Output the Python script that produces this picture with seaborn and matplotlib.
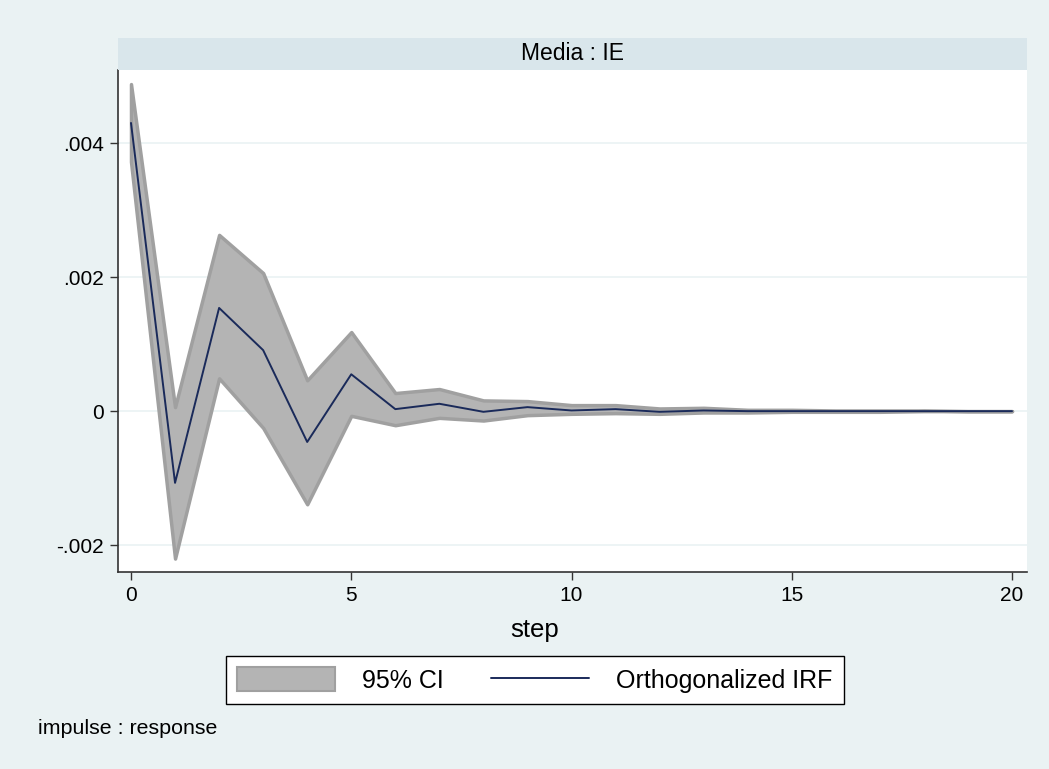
import numpy as np
import pandas as pd
import seaborn as sns
import matplotlib.pyplot as plt
from matplotlib.patches import Patch, Rectangle
from matplotlib.lines import Line2D

# values (orthogonalized IRF, Media : IE)
step = list(range(21))
irf = [0.00430, -0.00107, 0.00154, 0.00091, -0.00046, 0.00055, 0.00003, 0.00011,
       -0.00001, 0.00006, 0.00001, 0.00003, -0.00001, 0.00001, 0.0, 0.0,
       0.0, 0.0, 0.0, 0.0, 0.0]
ci_upper = [0.00488, 0.00006, 0.00263, 0.00206, 0.00046, 0.00118, 0.00027, 0.00033,
            0.00016, 0.00015, 0.00009, 0.00009, 0.00004, 0.00005, 0.00002, 0.00002,
            0.00001, 0.00001, 0.00001, 0.0, 0.0]
ci_lower = [0.00372, -0.00220, 0.00049, -0.00025, -0.00139, -0.00007, -0.00021, -0.00010,
            -0.00014, -0.00006, -0.00004, -0.00003, -0.00004, -0.00002, -0.00002, -0.00001,
            -0.00001, -0.00001, 0.0, 0.0, 0.0]
y_ticks = [-0.002, 0, 0.002, 0.004]
y_tick_labels = ["-.002", "0", ".002", ".004"]
x_ticks = [0, 5, 10, 15, 20]

df = pd.DataFrame({"step": step, "irf": irf, "lower": ci_lower, "upper": ci_upper})

bg = "#EAF2F3"
sns.set_style("white", {"text.color": "black", "axes.labelcolor": "black",
                        "xtick.color": "black", "ytick.color": "black"})
plt.rcParams["font.family"] = ["Liberation Sans", "DejaVu Sans"]

fig = plt.figure(figsize=(10.49, 7.69), dpi=100, facecolor=bg)
ax = fig.add_axes([118 / 1049, 1 - 572 / 769, (1027 - 118) / 1049, (572 - 70) / 769])
ax.set_facecolor("white")

for t in y_ticks:
    ax.axhline(t, color=bg, lw=1.2, zorder=0)

ax.fill_between(df["step"], df["lower"], df["upper"], facecolor="#B4B4B4",
                edgecolor="#A0A0A0", linewidth=2.5, zorder=2)
sns.lineplot(data=df, x="step", y="irf", ax=ax, color="#1A2A5A", linewidth=1.4, zorder=3)

ax.set_xlim(-0.295, 20.34)
ax.set_ylim(-0.0024, 0.00509)
ax.set_xticks(x_ticks)
ax.set_xticklabels([str(t) for t in x_ticks])
ax.set_yticks(y_ticks)
ax.set_yticklabels(y_tick_labels)
ax.tick_params(axis="both", direction="out", length=6, width=1, color="#333333",
               labelsize=15, pad=4, left=True, bottom=True)
ax.set_xlabel("step", fontsize=18.5)
ax.xaxis.label.set_va("center")
ax.xaxis.set_label_coords((535 - 118) / 909, (572 - 630) / 502)
ax.set_ylabel("")

for s in ["top", "right"]:
    ax.spines[s].set_visible(False)
for s in ["left", "bottom"]:
    ax.spines[s].set_color("#333333")
    ax.spines[s].set_linewidth(1.2)

# panel strip title
fig.patches.append(Rectangle((118 / 1049, 1 - 70 / 769), (1027 - 118) / 1049, 32 / 769,
                             transform=fig.transFigure, facecolor="#D9E6EB",
                             edgecolor="none", zorder=0))
fig.text((118 + 1027) / 2 / 1049, 1 - 54 / 769, "Media : IE", ha="center", va="center",
         fontsize=16.5)

handles = [Patch(facecolor="#B4B4B4", edgecolor="#A0A0A0", linewidth=1.5),
           Line2D([], [], color="#1A2A5A", linewidth=1.4)]
leg = fig.legend(handles, ["95% CI", "Orthogonalized IRF"], loc="center",
                 bbox_to_anchor=(535 / 1049, 1 - 680 / 769), ncol=2, fontsize=18,
                 frameon=True, fancybox=False, framealpha=1.0, handlelength=3.9,
                 handleheight=1.05, columnspacing=1.9, handletextpad=1.1, borderpad=0.45)
leg.get_frame().set_edgecolor("black")
leg.get_frame().set_linewidth(1.0)
leg.get_frame().set_facecolor("white")

fig.text(38 / 1049, 1 - 729 / 769, "impulse : response", ha="left", va="center", fontsize=15.4)

fig.savefig("out.png", dpi=100, facecolor=bg)
